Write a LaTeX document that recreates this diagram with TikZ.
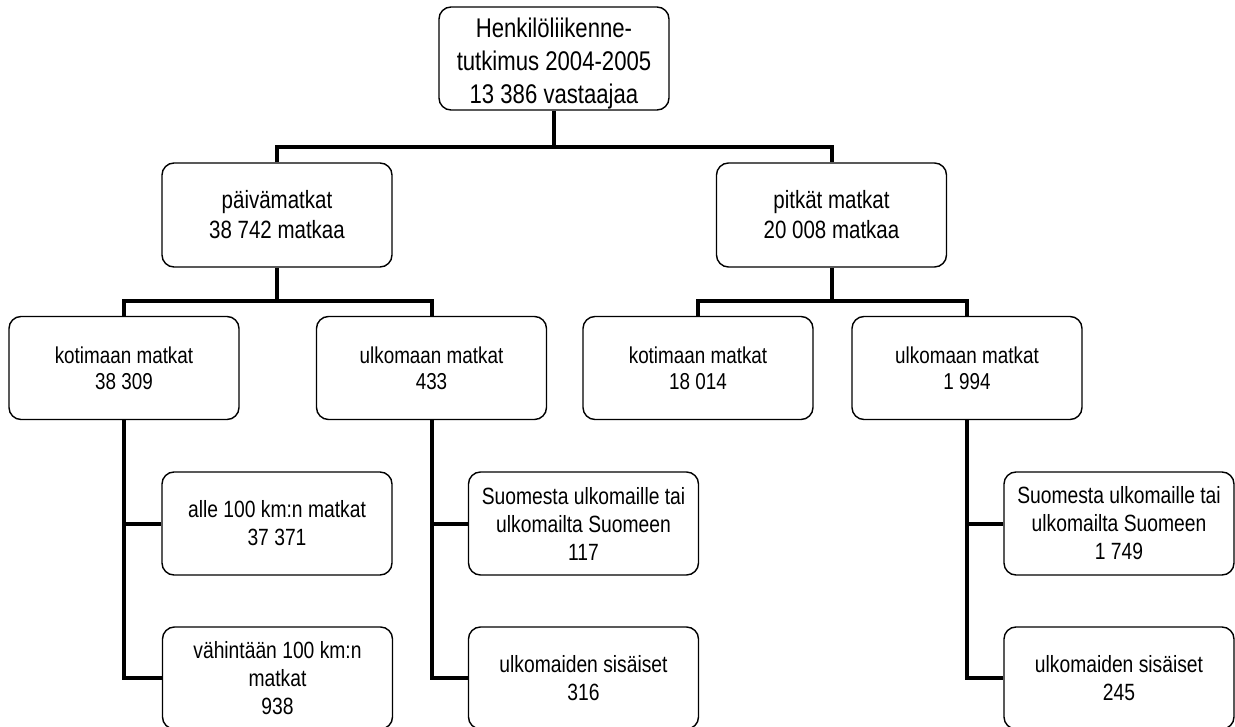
\documentclass[tikz,border=0pt]{standalone}
\usepackage{fontspec}
\setmainfont[FakeStretch=0.82]{Liberation Sans}
\begin{document}
\begin{tikzpicture}[x=1pt,y=-1pt,
  box/.style={draw=black,line width=1.4pt,rounded corners=12pt,minimum width=230pt,minimum height=103pt,inner sep=0pt,align=center,font=\fontsize{23}{26}\selectfont},
  toptext/.style={font=\fontsize{27}{33}\selectfont,align=center,inner sep=0pt,yshift=-5.5pt},
  midbox/.style={box,minimum height=104pt,font=\fontsize{25}{30}\selectfont},
  leafbox/.style={box,font=\fontsize{23.5}{28}\selectfont},
  conn/.style={line width=4pt,line cap=butt}]
\useasboundingbox (0,0) rectangle (1235,727);
\fill[white] (0,0) rectangle (1235,727);
% nodes
\node[box,label={[toptext]center:Henkilöliikenne-\\tutkimus 2004-2005\\13 386 vastaajaa}] (top) at (554,58.5) {};
\node[midbox] (pv) at (277,215) {päivämatkat\\38 742 matkaa};
\node[midbox] (pm) at (831.5,215) {pitkät matkat\\20 008 matkaa};
\node[box] (kl) at (124,368) {kotimaan matkat\\38 309};
\node[box] (ul) at (431.5,368) {ulkomaan matkat\\433};
\node[box] (kr) at (698,368) {kotimaan matkat\\18 014};
\node[box] (ur) at (967,368) {ulkomaan matkat\\1 994};
\node[leafbox] (a1) at (277,523.5) {alle 100 km:n matkat\\37 371};
\node[leafbox,minimum height=102pt] (a2) at (277.5,678) {vähintään 100 km:n\\matkat\\938};
\node[leafbox] (s1) at (583.5,523.5) {Suomesta ulkomaille tai\\ulkomailta Suomeen\\117};
\node[leafbox,minimum height=102pt] (s2) at (583.5,678) {ulkomaiden sisäiset\\316};
\node[leafbox] (r1) at (1119,523.5) {Suomesta ulkomaille tai\\ulkomailta Suomeen\\1 749};
\node[leafbox,minimum height=102pt] (r2) at (1119,678) {ulkomaiden sisäiset\\245};
% junctions
\coordinate (j1) at (554,147);
\coordinate (j2) at (277,301);
\coordinate (j3) at (831.5,301);
% connectors
\draw[conn] (top.south) -- (j1);
\draw[conn] (pv.north) |- (j1) -| (pm.north);
\draw[conn] (pv.south) -- (j2);
\draw[conn] (kl.north) |- (j2) -| (ul.north);
\draw[conn] (pm.south) -- (j3);
\draw[conn] (kr.north) |- (j3) -| (ur.north);
\draw[conn] (kl.south) |- (a2.west);
\draw[conn] (kl.south |- a1.west) -- (a1.west);
\draw[conn] (ul.south) |- (s2.west);
\draw[conn] (ul.south |- s1.west) -- (s1.west);
\draw[conn] (ur.south) |- (r2.west);
\draw[conn] (ur.south |- r1.west) -- (r1.west);
\end{tikzpicture}
\end{document}
